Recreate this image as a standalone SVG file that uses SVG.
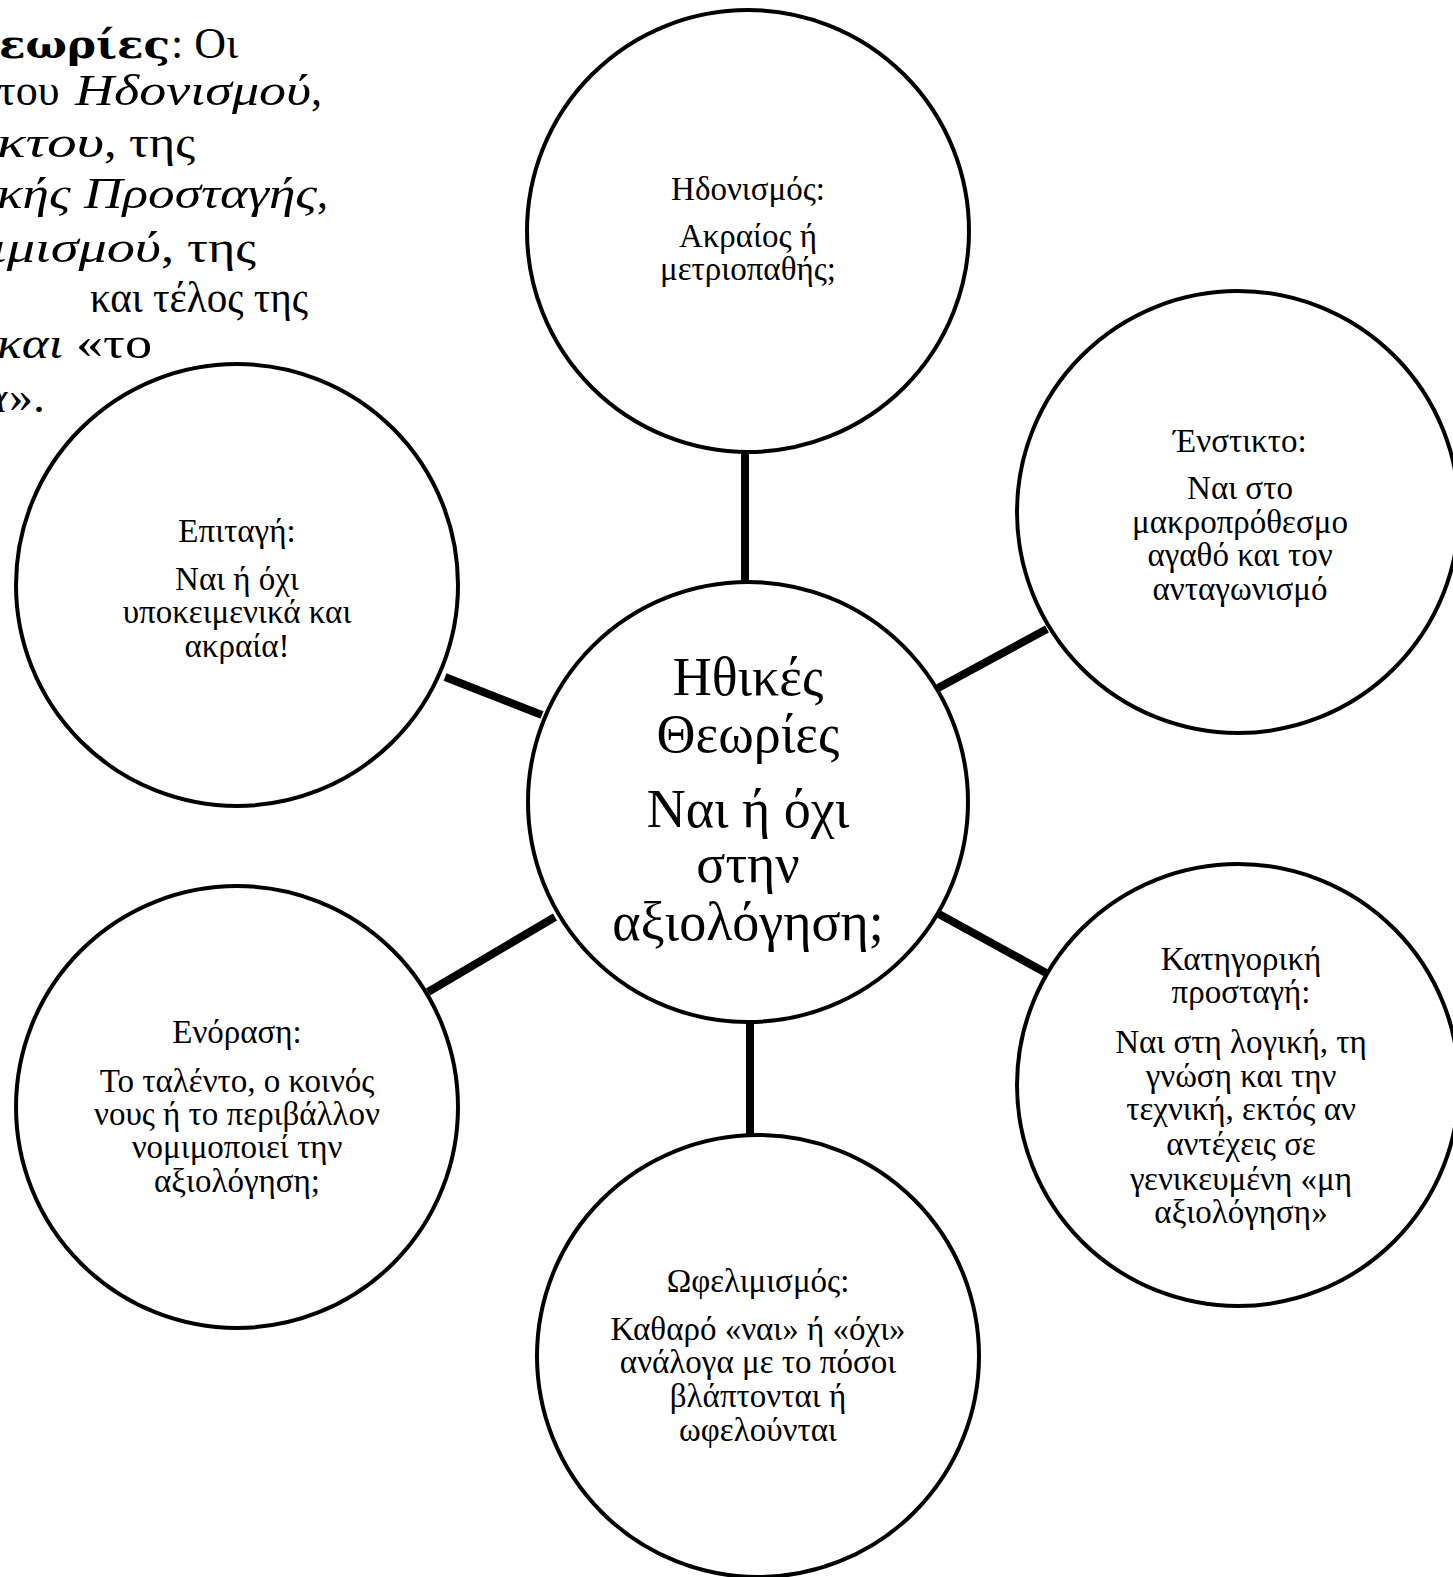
<svg xmlns="http://www.w3.org/2000/svg" width="1453" height="1577" viewBox="0 0 1453 1577">
<style>
.bg{fill:#fff}
.node circle{fill:#fff;stroke:#000;stroke-width:4}
.conn line{stroke:#000;stroke-width:8;stroke-linecap:butt}
text{font-family:"Liberation Serif","DejaVu Serif",serif;fill:#000}
.t{font-size:33px;text-anchor:middle}
.c{font-size:54px;text-anchor:middle}
.intro{font-size:44px}
.b{font-family:"DejaVu Serif","Liberation Serif",serif;font-weight:bold;font-size:40px}
.i{font-style:italic}
</style>
<rect class="bg" x="0" y="0" width="1453" height="1577"/>
<g id="intro">
<text class="intro b" x="-1" y="58" textLength="171" lengthAdjust="spacingAndGlyphs">εωρίες</text>
<text class="intro" x="171" y="58" textLength="67" lengthAdjust="spacing">: Οι</text>
<text class="intro" x="-2" y="105">του</text>
<text class="intro i" x="75" y="105" textLength="236" lengthAdjust="spacingAndGlyphs">Ηδονισμού</text>
<text class="intro" x="311" y="105">,</text>
<text class="intro i" x="-3" y="157" textLength="107" lengthAdjust="spacingAndGlyphs">κτου</text>
<text class="intro" x="104" y="157" textLength="91" lengthAdjust="spacingAndGlyphs">, της</text>
<text class="intro i" x="-3" y="208" textLength="320" lengthAdjust="spacingAndGlyphs">κής Προσταγής</text>
<text class="intro" x="317" y="208">,</text>
<text class="intro i" x="-9" y="262" textLength="170" lengthAdjust="spacingAndGlyphs">ιμισμού</text>
<text class="intro" x="161" y="262" textLength="95" lengthAdjust="spacingAndGlyphs">, της</text>
<text class="intro" x="90" y="312" textLength="218" lengthAdjust="spacingAndGlyphs">και τέλος της</text>
<text class="intro i" x="-3" y="358" textLength="66" lengthAdjust="spacingAndGlyphs">και</text>
<text class="intro" x="76" y="358" textLength="76" lengthAdjust="spacingAndGlyphs">«το</text>
<text class="intro i" x="-16" y="412">α</text>
<text class="intro" x="9" y="412" textLength="36" lengthAdjust="spacingAndGlyphs">».</text>
</g>
<g id="connectors" class="conn">
<line x1="745" y1="450" x2="745" y2="584"/>
<line x1="938" y1="688" x2="1047" y2="629"/>
<line x1="937" y1="913" x2="1048" y2="974"/>
<line x1="750" y1="1020" x2="750" y2="1136"/>
<line x1="555" y1="917" x2="428" y2="992"/>
<line x1="542" y1="715" x2="445" y2="677"/>
</g>
<g id="node-center" class="node">
<circle cx="748" cy="802" r="220"/>
<text class="c" x="748" y="695">Ηθικές</text>
<text class="c" x="748" y="752">Θεωρίες</text>
<text class="c" x="748" y="827">Ναι ή όχι</text>
<text class="c" x="748" y="882">στην</text>
<text class="c" x="748" y="940">αξιολόγηση;</text>
</g>
<g id="node-hedonism" class="node">
<circle cx="748" cy="231" r="221"/>
<text class="t" x="748" y="200">Ηδονισμός:</text>
<text class="t" x="748" y="247">Ακραίος ή</text>
<text class="t" x="748" y="280">μετριοπαθής;</text>
</g>
<g id="node-instinct" class="node">
<circle cx="1238" cy="512" r="221"/>
<text class="t" x="1240" y="452">Ένστικτο:</text>
<text class="t" x="1240" y="499">Ναι στο</text>
<text class="t" x="1240" y="533">μακροπρόθεσμο</text>
<text class="t" x="1240" y="566">αγαθό και τον</text>
<text class="t" x="1240" y="600">ανταγωνισμό</text>
</g>
<g id="node-categorical" class="node">
<circle cx="1238" cy="1085" r="221"/>
<text class="t" x="1241" y="970">Κατηγορική</text>
<text class="t" x="1241" y="1003">προσταγή:</text>
<text class="t" x="1241" y="1053">Ναι στη λογική, τη</text>
<text class="t" x="1241" y="1087">γνώση και την</text>
<text class="t" x="1241" y="1120">τεχνική, εκτός αν</text>
<text class="t" x="1241" y="1155">αντέχεις σε</text>
<text class="t" x="1241" y="1190">γενικευμένη «μη</text>
<text class="t" x="1241" y="1223">αξιολόγηση»</text>
</g>
<g id="node-utilitarianism" class="node">
<circle cx="758" cy="1356" r="221"/>
<text class="t" x="758" y="1292">Ωφελιμισμός:</text>
<text class="t" x="758" y="1340">Καθαρό «ναι» ή «όχι»</text>
<text class="t" x="758" y="1373">ανάλογα με το πόσοι</text>
<text class="t" x="758" y="1407">βλάπτονται ή</text>
<text class="t" x="758" y="1441">ωφελούνται</text>
</g>
<g id="node-intuition" class="node">
<circle cx="237" cy="1107" r="221"/>
<text class="t" x="237" y="1043">Ενόραση:</text>
<text class="t" x="237" y="1092">Το ταλέντο, ο κοινός</text>
<text class="t" x="237" y="1125">νους ή το περιβάλλον</text>
<text class="t" x="237" y="1158">νομιμοποιεί την</text>
<text class="t" x="237" y="1192">αξιολόγηση;</text>
</g>
<g id="node-imperative" class="node">
<circle cx="237" cy="585" r="221"/>
<text class="t" x="237" y="542">Επιταγή:</text>
<text class="t" x="237" y="590">Ναι ή όχι</text>
<text class="t" x="237" y="623">υποκειμενικά και</text>
<text class="t" x="237" y="657">ακραία!</text>
</g>
</svg>
